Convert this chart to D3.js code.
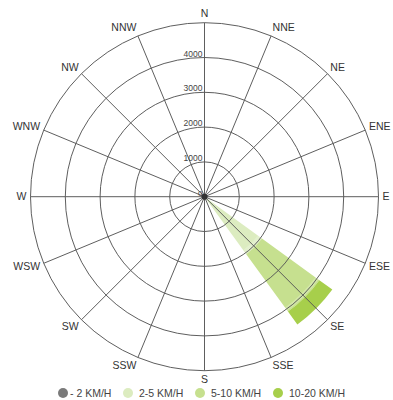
<!DOCTYPE html>
<html>
<head>
<meta charset="utf-8">
<script src="https://cdn.jsdelivr.net/npm/d3@7"></script>
<style>
  html, body { margin: 0; padding: 0; background: #fff; }
  svg { display: block; font-family: "Liberation Sans", Arial, sans-serif; }
</style>
</head>
<body>
<svg id="chart" width="393" height="400"></svg>
<script>
const directions = ["N","NNE","NE","ENE","E","ESE","SE","SSE","S","SSW","SW","WSW","W","WNW","NW","NNW"];
const speedBins = ["- 2 KM/H","2-5 KM/H","5-10 KM/H","10-20 KM/H"];
const binColors = ["#7a7a7a","#dcecc0","#c6e08f","#a7cf4b"];
const calmValues  = [0,0,0,0,0,0,60,0,0,0,0,0,0,0,0,0];
const lowValues   = [0,0,0,0,0,0,1980,0,0,0,0,0,0,0,0,0];
const midValues   = [0,0,0,0,0,0,2040,0,0,0,0,0,0,0,0,0];
const highValues  = [0,0,0,0,0,0,460,0,0,0,0,0,0,0,0,0];
const ringValues = [1000,2000,3000,4000,5000];
const tickLabels = [0,1000,2000,3000,4000];

const svg = d3.select("#chart");
const cx = 204.5, cy = 196.7, R = 174;
const g = svg.append("g").attr("transform", `translate(${cx},${cy})`);

const r = d3.scaleLinear().domain([0, 5000]).range([0, R]);
const angle = d3.scaleBand().domain(directions).range([0, 2*Math.PI]).align(0);
const half = 9 * Math.PI / 180;

// stacked data
const series = [calmValues, lowValues, midValues, highValues];
const rows = directions.map((d, i) => {
  const o = {dir: d};
  speedBins.forEach((b, j) => o[b] = series[j][i]);
  return o;
});
const stacked = d3.stack().keys(speedBins)(rows);

const arc = d3.arc()
  .innerRadius(d => r(d[0]))
  .outerRadius(d => r(d[1]))
  .startAngle(d => angle(d.data.dir) - half)
  .endAngle(d => angle(d.data.dir) + half);

const bars = g.append("g");
stacked.forEach((layer, j) => {
  if (j === 0) return;
  bars.selectAll(null)
    .data(layer.filter(d => d[1] > d[0]))
    .enter().append("path")
    .attr("d", arc)
    .attr("fill", binColors[j]);
  bars.selectAll(null)
    .data(layer.filter(d => d[1] > d[0] && j < 3))
    .enter().append("path")
    .attr("d", d3.arc()
      .innerRadius(d => r(d[1]) - 5)
      .outerRadius(d => r(d[1]) - 1)
      .startAngle(d => angle(d.data.dir) - half)
      .endAngle(d => angle(d.data.dir) + half))
    .attr("fill", "#fff").attr("opacity", 0.22);
});

// grid rings
g.append("g").selectAll("circle")
  .data(ringValues).enter().append("circle")
  .attr("r", d => r(d))
  .attr("fill", "none")
  .attr("stroke", "#555")
  .attr("stroke-width", 0.95);

// spokes
g.append("g").selectAll("line")
  .data(directions).enter().append("line")
  .attr("x1", 0).attr("y1", 0)
  .attr("x2", d => R * Math.sin(angle(d)))
  .attr("y2", d => -R * Math.cos(angle(d)))
  .attr("stroke", "#555")
  .attr("stroke-width", 0.95);

// calm dot at center
stacked[0].filter(d => d[1] > 0).forEach(d => {
  g.append("circle").attr("r", 3).attr("fill", "#333");
});

// tick labels
g.append("g").selectAll("text")
  .data(tickLabels).enter().append("text")
  .attr("x", -2)
  .attr("y", d => -r(d) - 1)
  .attr("text-anchor", "end")
  .attr("font-size", d => d === 0 ? 8 : 8.5)
  .attr("fill", "#444")
  .text(d => d === 0 ? "0" : d);

// direction labels
const lbl = g.append("g").selectAll("text")
  .data(directions).enter().append("text")
  .attr("text-anchor", "middle")
  .attr("dy", "0.35em")
  .attr("font-size", 10.5)
  .attr("fill", "#333")
  .text(d => d);
lbl.each(function(d) {
  const w = this.getComputedTextLength();
  const a = angle(d), s = Math.sin(a), c = Math.cos(a);
  const sx = Math.abs(s) < 1e-6 ? 0 : Math.sign(s);
  d3.select(this)
    .attr("x", 178 * s + sx * w / 2)
    .attr("y", -178 * c - 5 * c);
});

// legend
const legendX = [63, 128, 200, 278];
const legend = svg.append("g").attr("transform", "translate(0,393)");
speedBins.forEach((b, j) => {
  const it = legend.append("g").attr("transform", `translate(${legendX[j]},0)`);
  it.append("circle").attr("r", 5).attr("fill", binColors[j]);
  it.append("text").attr("x", j === 0 ? 7 : 11).attr("dy", "0.35em")
    .attr("font-size", 10.5).attr("fill", "#444").text(b);
});
</script>
</body>
</html>
